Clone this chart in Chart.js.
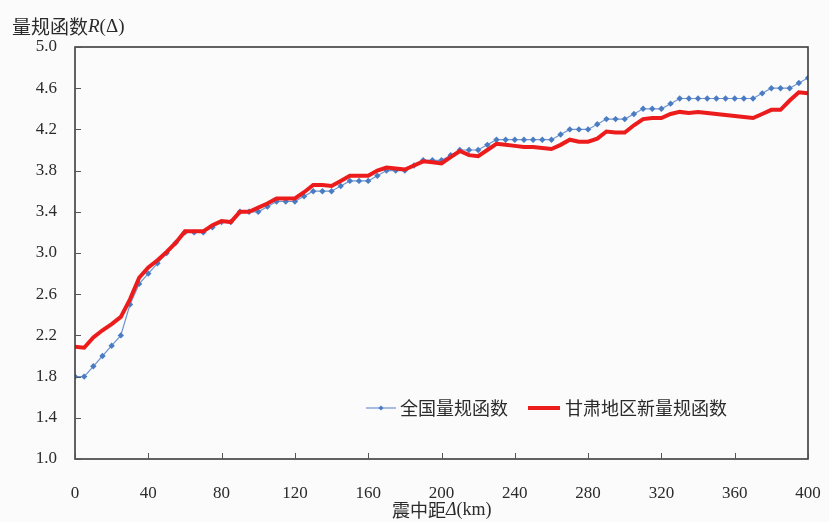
<!DOCTYPE html>
<html>
<head>
<meta charset="utf-8">
<script src="https://cdn.jsdelivr.net/npm/chart.js@4/dist/chart.umd.min.js"></script>
<style>
  html, body { margin: 0; padding: 0; background: #fbfbfb; }
  canvas { display: block; }
</style>
</head>
<body>
<canvas id="rChart" width="829" height="522"></canvas>
<script>
// distance (km) and the two calibration functions
const distance = [0, 5, 10, 15, 20, 25, 30, 35, 40, 45, 50, 55, 60, 65, 70, 75, 80, 85, 90, 95,
  100, 105, 110, 115, 120, 125, 130, 135, 140, 145, 150, 155, 160, 165, 170, 175, 180, 185, 190, 195,
  200, 205, 210, 215, 220, 225, 230, 235, 240, 245, 250, 255, 260, 265, 270, 275, 280, 285, 290, 295,
  300, 305, 310, 315, 320, 325, 330, 335, 340, 345, 350, 355, 360, 365, 370, 375, 380, 385, 390, 395, 400];

const national = [1.8, 1.8, 1.9, 2.0, 2.1, 2.2, 2.5, 2.7, 2.8, 2.9, 3.0, 3.1, 3.2, 3.2, 3.2, 3.25, 3.3, 3.3, 3.4, 3.4,
  3.4, 3.45, 3.5, 3.5, 3.5, 3.55, 3.6, 3.6, 3.6, 3.65, 3.7, 3.7, 3.7, 3.75, 3.8, 3.8, 3.8, 3.85, 3.9, 3.9,
  3.9, 3.95, 4.0, 4.0, 4.0, 4.05, 4.1, 4.1, 4.1, 4.1, 4.1, 4.1, 4.1, 4.15, 4.2, 4.2, 4.2, 4.25, 4.3, 4.3,
  4.3, 4.35, 4.4, 4.4, 4.4, 4.45, 4.5, 4.5, 4.5, 4.5, 4.5, 4.5, 4.5, 4.5, 4.5, 4.55, 4.6, 4.6, 4.6, 4.65, 4.7];

const gansu = [2.09, 2.08, 2.18, 2.25, 2.31, 2.38, 2.55, 2.76, 2.86, 2.93, 3.01, 3.1, 3.21, 3.21, 3.21, 3.27, 3.31, 3.3, 3.4, 3.4,
  3.44, 3.48, 3.53, 3.53, 3.53, 3.59, 3.66, 3.66, 3.65, 3.7, 3.75, 3.75, 3.75, 3.8, 3.83, 3.82, 3.81, 3.85, 3.89, 3.88,
  3.87, 3.93, 3.99, 3.95, 3.94, 4.0, 4.06, 4.05, 4.04, 4.03, 4.03, 4.02, 4.01, 4.05, 4.1, 4.08, 4.08, 4.11, 4.18, 4.17,
  4.17, 4.24, 4.3, 4.31, 4.31, 4.35, 4.37, 4.36, 4.37, 4.36, 4.35, 4.34, 4.33, 4.32, 4.31, 4.35, 4.39, 4.39, 4.48, 4.56, 4.55];

const labelNational = '全国量规函数';
const labelGansu = '甘肃地区新量规函数';

const serif = '"Liberation Serif", "DejaVu Serif", serif';
const cjk = '"Noto Sans CJK SC", "Noto Sans", sans-serif';
const textColor = '#2b2b2b';

const toPoints = (ys) => distance.map((d, i) => ({ x: d, y: ys[i] }));

// draws mixed-font text runs from a starting x
function drawRuns(ctx, x, y, runs) {
  runs.forEach(r => {
    ctx.font = r.font;
    ctx.fillText(r.text, x, y);
    x += ctx.measureText(r.text).width;
  });
}

const framePlugin = {
  id: 'frame',
  beforeDraw(chart) {
    const ctx = chart.ctx;
    ctx.save();
    ctx.fillStyle = '#fbfbfb';
    ctx.fillRect(0, 0, chart.width, chart.height);
    ctx.restore();
  },
  afterDraw(chart) {
    const { ctx, chartArea: a, scales: { x, y } } = chart;
    ctx.save();
    // box
    ctx.strokeStyle = '#3c3c3c';
    ctx.lineWidth = 1.6;
    ctx.strokeRect(a.left, a.top, a.right - a.left, a.bottom - a.top);
    // inward ticks
    ctx.lineWidth = 1;
    ctx.strokeStyle = '#555';
    ctx.beginPath();
    y.ticks.forEach(t => {
      const py = Math.round(y.getPixelForValue(t.value)) + 0.5;
      ctx.moveTo(a.left, py);
      ctx.lineTo(a.left + 6, py);
    });
    x.ticks.forEach(t => {
      const px = Math.round(x.getPixelForValue(t.value)) + 0.5;
      ctx.moveTo(px, a.bottom);
      ctx.lineTo(px, a.bottom - 6);
    });
    ctx.stroke();

    // axis titles
    ctx.fillStyle = textColor;
    ctx.textBaseline = 'middle';
    ctx.textAlign = 'left';
    drawRuns(ctx, 12, 27, [
      { text: '量规函数', font: '19px ' + cjk },
      { text: 'R', font: 'italic 19px ' + serif },
      { text: '(Δ)', font: '19px ' + serif }
    ]);
    drawRuns(ctx, 392, 510, [
      { text: '震中距', font: '18px ' + cjk },
      { text: 'Δ', font: 'italic 18px ' + serif },
      { text: '(km)', font: '18px ' + serif }
    ]);

    // legend inside the plot
    const ly = 408;
    const sets = chart.data.datasets;
    const entries = [
      { ds: sets[0], x0: 366, x1: 396, tx: 400 },
      { ds: sets[1], x0: 528, x1: 560, tx: 565 }
    ];
    entries.forEach(e => {
      ctx.strokeStyle = e.ds.borderColor;
      ctx.lineWidth = e.ds.borderWidth;
      ctx.beginPath();
      ctx.moveTo(e.x0, ly);
      ctx.lineTo(e.x1, ly);
      ctx.stroke();
      if (e.ds.pointRadius > 0) {
        const cx = (e.x0 + e.x1) / 2, r = 2.6;
        ctx.fillStyle = e.ds.pointBackgroundColor;
        ctx.beginPath();
        ctx.moveTo(cx, ly - r); ctx.lineTo(cx + r, ly); ctx.lineTo(cx, ly + r); ctx.lineTo(cx - r, ly);
        ctx.closePath();
        ctx.fill();
      }
      ctx.fillStyle = textColor;
      ctx.font = '18px ' + cjk;
      ctx.fillText(e.ds.label, e.tx, ly);
    });
    ctx.restore();
  }
};

const ctx = document.getElementById('rChart').getContext('2d');
new Chart(ctx, {
  type: 'line',
  data: {
    datasets: [{
      label: labelNational,
      data: toPoints(national),
      borderColor: '#6f95cf',
      borderWidth: 1.2,
      pointStyle: 'rectRot',
      pointRadius: 3.2,
      pointBackgroundColor: '#4a7cc4',
      pointBorderColor: '#4a7cc4',
      pointBorderWidth: 0,
      tension: 0,
      order: 1
    }, {
      label: labelGansu,
      data: toPoints(gansu),
      borderColor: '#ec1c1c',
      borderWidth: 4,
      pointRadius: 0,
      tension: 0,
      order: 0
    }]
  },
  options: {
    responsive: false,
    animation: false,
    layout: { padding: { top: 47, right: 21, left: 0, bottom: 0 } },
    scales: {
      x: {
        type: 'linear',
        min: 0,
        max: 400,
        grid: { display: false, drawTicks: false },
        border: { display: false },
        ticks: {
          stepSize: 40,
          padding: 24,
          color: textColor,
          font: { family: serif, size: 17 }
        },
        afterFit: (s) => { s.height = 63; s.paddingLeft = 0; s.paddingRight = 0; }
      },
      y: {
        min: 1.0,
        max: 5.0,
        grid: { display: false, drawTicks: false },
        border: { display: false },
        ticks: {
          stepSize: 0.4,
          padding: 18,
          color: textColor,
          font: { family: serif, size: 17 },
          callback: (v) => Number(v).toFixed(1)
        },
        afterFit: (s) => { s.width = 75; s.paddingTop = 0; s.paddingBottom = 0; }
      }
    },
    plugins: {
      legend: { display: false },
      tooltip: { enabled: false }
    }
  },
  plugins: [framePlugin]
});
</script>
</body>
</html>
